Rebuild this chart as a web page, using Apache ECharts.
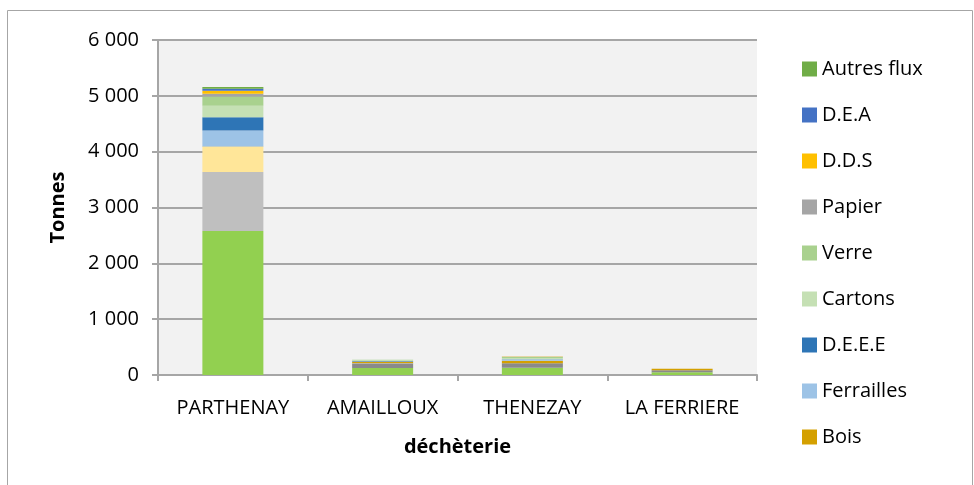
<!DOCTYPE html>
<html>
<head>
<meta charset="utf-8">
<script src="https://cdn.jsdelivr.net/npm/echarts@6/dist/echarts.min.js"></script>
<style>
  html, body { margin: 0; padding: 0; background: #fff; }
  #chart { width: 974px; height: 485px; }
</style>
</head>
<body>
<div id="chart"></div>
<script>
// déchèteries
const categories = ['PARTHENAY', 'AMAILLOUX', 'THENEZAY', 'LA FERRIERE'];

// tonnages par flux (ordre d'empilement, du bas vers le haut)
const dechetsVerts = [2580, 125, 131, 48];
const encombrants = [0, 84, 78, 36];
const toutVenant = [1055, 0, 0, 0];
const gravats = [453, 5, 0, 0];
const bois = [5, 22, 46, 29];
const ferrailles = [285, 8, 22, 0];
const deee = [240, 5, 6, 0];
const cartons = [203, 18, 22, 0];
const verre = [167, 8, 18, 0];
const papier = [48, 0, 5, 0];
const dds = [54, 0, 2, 0];
const dea = [36, 0, 0, 0];
const autresFlux = [30, 0, 0, 0];

const yTicks = [0, 1000, 2000, 3000, 4000, 5000, 6000];

// légende visible (ordre affiché)
const legendNames = ['Autres flux', 'D.E.A', 'D.D.S', 'Papier', 'Verre', 'Cartons', 'D.E.E.E', 'Ferrailles', 'Bois'];

const stackDefs = [
  { name: 'Déchets verts', data: dechetsVerts, color: '#92d050' },
  { name: 'Encombrants', data: encombrants, color: '#8a8a8a' },
  { name: 'Tout venant', data: toutVenant, color: '#bfbfbf' },
  { name: 'Gravats', data: gravats, color: '#ffe699' },
  { name: 'Bois', data: bois, color: '#d4a000' },
  { name: 'Ferrailles', data: ferrailles, color: '#9dc3e6' },
  { name: 'D.E.E.E', data: deee, color: '#2e75b6' },
  { name: 'Cartons', data: cartons, color: '#c5e0b4' },
  { name: 'Verre', data: verre, color: '#a9d18e' },
  { name: 'Papier', data: papier, color: '#a5a5a5' },
  { name: 'D.D.S', data: dds, color: '#ffc000' },
  { name: 'D.E.A', data: dea, color: '#4472c4' },
  { name: 'Autres flux', data: autresFlux, color: '#70ad47' }
];

const font = 'Open Sans, Noto Sans, sans-serif';

let chart = echarts.init(document.getElementById('chart'), null, { renderer: 'canvas' });

let options = {
  animation: false,
  backgroundColor: '#ffffff',
  textStyle: { fontFamily: font, color: '#000' },
  // cadre du graphique
  graphic: [
    {
      type: 'rect',
      shape: { x: 7.5, y: 10.5, width: 965, height: 480 },
      style: { fill: 'none', stroke: '#a6a6a6', lineWidth: 1 },
      silent: true
    }
  ],
  grid: {
    left: 158,
    right: 217,
    top: 40,
    bottom: 110,
    show: true,
    backgroundColor: '#f2f2f2',
    borderWidth: 0
  },
  legend: {
    orient: 'vertical',
    left: 797,
    top: 53,
    data: legendNames,
    icon: 'rect',
    itemWidth: 15,
    itemHeight: 15,
    itemGap: 24,
    textStyle: { fontFamily: font, fontSize: 20, color: '#000', lineHeight: 22 }
  },
  xAxis: {
    type: 'category',
    data: categories,
    name: 'déchèterie',
    nameLocation: 'middle',
    nameGap: 62,
    nameTextStyle: { fontFamily: font, fontSize: 20, fontWeight: 'bold', color: '#000' },
    axisLine: { lineStyle: { color: '#a6a6a6', width: 2 } },
    axisTick: { show: true, length: 6, lineStyle: { color: '#a6a6a6', width: 2 } },
    axisLabel: { fontFamily: font, fontSize: 20, color: '#000', margin: 23 }
  },
  yAxis: {
    type: 'value',
    min: yTicks[0],
    max: yTicks[yTicks.length - 1],
    interval: 1000,
    name: 'Tonnes',
    nameLocation: 'middle',
    nameGap: 90,
    nameRotate: 90,
    nameTextStyle: { fontFamily: font, fontSize: 20, fontWeight: 'bold', color: '#000' },
    axisLine: { show: true, lineStyle: { color: '#a6a6a6', width: 2 } },
    axisTick: { show: true, length: 6, lineStyle: { color: '#a6a6a6', width: 2 } },
    splitLine: { show: true, lineStyle: { color: '#a6a6a6', width: 2 } },
    axisLabel: {
      fontFamily: font,
      fontSize: 20,
      color: '#000',
      margin: 19,
      formatter: function (v) {
        return String(v).replace(/\B(?=(\d{3})+(?!\d))/g, ' ');
      }
    }
  },
  series: stackDefs.map(function (s) {
    return {
      name: s.name,
      type: 'bar',
      stack: 'total',
      barWidth: 61,
      data: s.data,
      itemStyle: { color: s.color },
      emphasis: { disabled: true }
    };
  })
};

chart.setOption(options);
</script>
</body>
</html>
